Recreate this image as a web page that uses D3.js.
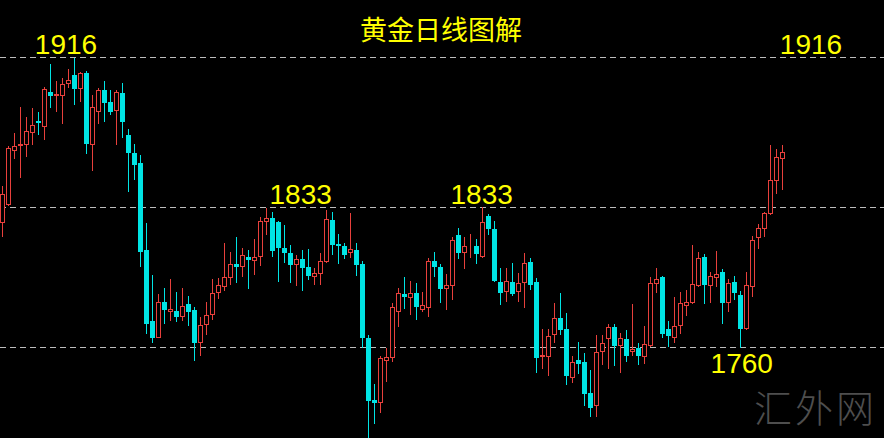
<!DOCTYPE html>
<html>
<head>
<meta charset="utf-8">
<script src="https://cdn.jsdelivr.net/npm/d3@7/dist/d3.min.js"></script>
<style>
  html, body { margin: 0; padding: 0; background: #000; }
  svg { display: block; }
</style>
</head>
<body>
<svg id="chart" width="884" height="438"></svg>
<script>
// ---- data (daily gold candles) ----
const openP = [1824.8,1834.3,1864.4,1867.3,1867.5,1874.0,1880.8,1877.3,1897.0,1894.7,1894.7,1901.3,1906.3,1898.4,1907.2,1867.5,1886.0,1898.0,1891.5,1886.3,1896.3,1873.1,1863.1,1857.5,1810.7,1773.6,1765.2,1783.5,1778.3,1778.8,1775.7,1782.5,1779.3,1762.1,1771.5,1776.7,1788.2,1791.4,1796.1,1803.4,1801.8,1807.0,1804.9,1807.0,1825.3,1827.4,1825.3,1811.7,1809.1,1802.9,1806.0,1801.8,1796.6,1798.1,1804.4,1826.4,1813.8,1812.8,1809.1,1810.7,1803.4,1764.7,1732.8,1731.3,1753.2,1754.3,1778.3,1787.7,1785.6,1788.2,1779.3,1780.4,1804.9,1801.8,1790.3,1791.9,1818.5,1809.1,1812.0,1812.8,1807.0,1828.4,1821.7,1794.0,1788.7,1794.0,1788.7,1793.4,1804.4,1794.0,1754.8,1754.8,1766.3,1775.2,1769.9,1744.3,1753.7,1752.2,1736.5,1729.7,1757.9,1764.2,1770.5,1761.0,1764.2,1757.4,1759.5,1755.3,1761.0,1792.9,1796.6,1769.9,1765.2,1771.0,1781.4,1783.0,1791.9,1807.0,1791.9,1796.1,1799.2,1783.0,1794.0,1787.2,1769.4,1791.4,1817.0,1821.7,1829.5,1847.6,1859.8];
const highP = [1844.8,1867.0,1874.0,1888.7,1882.9,1887.8,1886.0,1899.8,1912.4,1903.1,1904.5,1909.4,1915.5,1908.1,1908.7,1895.2,1898.9,1903.1,1898.0,1898.0,1901.9,1876.4,1868.1,1862.0,1824.8,1797.6,1787.7,1790.8,1795.5,1788.7,1790.8,1786.7,1780.9,1775.7,1783.5,1795.5,1796.1,1814.3,1809.6,1817.5,1811.7,1810.7,1816.4,1827.9,1832.6,1830.5,1826.0,1823.7,1813.3,1808.1,1810.7,1811.2,1801.3,1809.1,1831.6,1830.5,1819.0,1814.3,1830.0,1814.3,1804.9,1766.3,1741.2,1755.8,1760.0,1783.0,1790.8,1796.6,1794.5,1793.4,1788.7,1806.5,1809.6,1803.4,1798.1,1817.5,1822.2,1817.5,1819.0,1816.4,1833.2,1829.5,1825.8,1801.3,1801.3,1803.9,1798.7,1809.1,1806.5,1796.1,1769.9,1769.9,1783.0,1788.2,1777.8,1755.8,1763.1,1756.9,1748.5,1766.3,1766.3,1772.0,1772.0,1767.8,1768.9,1782.5,1762.6,1771.0,1796.6,1801.3,1797.1,1773.6,1786.1,1788.7,1789.8,1813.3,1809.6,1808.6,1799.2,1810.2,1800.8,1795.5,1797.1,1789.3,1799.2,1818.0,1824.3,1830.5,1867.5,1865.3,1867.5];
const lowP = [1817.5,1834.0,1860.1,1849.1,1860.7,1867.5,1873.1,1870.3,1887.8,1886.0,1879.0,1898.9,1889.7,1891.5,1862.5,1853.3,1879.1,1880.4,1884.1,1867.5,1871.4,1841.5,1848.1,1801.8,1767.3,1762.1,1765.0,1772.0,1773.6,1773.1,1773.6,1771.0,1753.2,1755.8,1766.3,1774.6,1785.1,1789.3,1792.4,1793.4,1796.6,1790.3,1797.6,1802.3,1818.5,1807.0,1794.0,1803.9,1793.4,1791.9,1789.3,1795.0,1792.4,1792.4,1804.0,1808.1,1803.4,1806.0,1806.5,1797.1,1760.0,1711.0,1720.3,1726.0,1742.2,1752.2,1770.5,1779.9,1777.2,1774.6,1778.3,1775.7,1796.6,1783.0,1779.3,1784.6,1806.0,1800.8,1806.5,1803.4,1806.5,1818.5,1794.0,1782.0,1783.5,1786.7,1783.5,1780.4,1789.8,1746.9,1749.0,1744.9,1762.1,1766.3,1740.2,1741.7,1746.4,1729.7,1724.0,1724.0,1751.1,1749.0,1750.1,1746.9,1752.2,1755.8,1751.1,1751.6,1760.5,1788.2,1765.2,1760.5,1762.6,1766.8,1776.2,1782.5,1791.4,1782.5,1783.0,1791.4,1772.5,1778.3,1784.6,1760.0,1769.0,1786.1,1811.2,1817.5,1829.0,1840.4,1842.6];
const closeP = [1840.4,1865.9,1867.0,1868.1,1875.4,1878.6,1879.5,1898.4,1894.8,1895.6,1901.1,1903.5,1898.4,1907.2,1868.1,1888.7,1898.0,1890.6,1886.0,1896.9,1880.3,1863.1,1856.4,1809.6,1772.5,1765.2,1783.5,1779.3,1779.9,1775.7,1781.4,1778.3,1762.1,1771.5,1776.7,1788.2,1792.4,1796.6,1803.4,1801.8,1808.1,1805.5,1807.0,1825.8,1827.4,1810.2,1811.7,1809.1,1802.9,1806.0,1801.3,1797.1,1798.7,1804.9,1826.9,1813.3,1812.8,1808.1,1811.2,1802.9,1764.7,1732.3,1731.3,1754.3,1754.8,1780.9,1788.2,1786.1,1788.2,1780.9,1782.0,1804.9,1801.8,1790.3,1792.4,1815.9,1809.1,1812.8,1812.5,1808.6,1825.3,1821.7,1794.5,1788.2,1794.5,1787.7,1793.4,1803.9,1792.4,1754.3,1756.3,1765.8,1775.2,1768.9,1744.9,1752.2,1751.6,1736.0,1728.7,1757.4,1762.1,1770.5,1761.0,1765.2,1755.8,1759.0,1755.8,1761.6,1793.4,1795.5,1767.3,1765.8,1771.0,1783.0,1783.5,1792.9,1806.5,1792.4,1797.1,1798.1,1783.0,1793.4,1788.2,1769.9,1792.4,1815.9,1822.2,1830.0,1848.1,1860.9,1863.6];

const levels = [1916, 1833, 1760];
const levelLabels = [
  {text: "1916", value: 1916, pos: 0.0},
  {text: "1916", value: 1916, pos: 1.0},
  {text: "1833", value: 1833, pos: 0.315},
  {text: "1833", value: 1833, pos: 0.558},
  {text: "1760", value: 1760, pos: 0.907}
];
const title = "黄金日线图解";
const watermark = "汇外网";

// ---- drawing ----
const W = 884, H = 438;
const svg = d3.select("#chart");
svg.append("rect").attr("width", W).attr("height", H).attr("fill", "#000");

const candles = openP.map((o, i) => ({i, o, h: highP[i], l: lowP[i], c: closeP[i]}));

const x = d3.scaleLinear().domain([0, candles.length - 1]).range([2.5, 782.5]);
const y = d3.scaleLinear().domain([1760, 1833, 1916]).range([347.5, 207.5, 57.5]);

const UP = "#e8403c", DOWN = "#00e4e4";

// dashed level lines
svg.append("g").selectAll("line").data(levels).join("line")
  .attr("x1", 0).attr("x2", W)
  .attr("y1", d => Math.round(y(d) - 0.5) + 0.5)
  .attr("y2", d => Math.round(y(d) - 0.5) + 0.5)
  .attr("stroke", "#bdbdbd").attr("stroke-width", 1)
  .attr("stroke-dasharray", "6,4");

const g = svg.append("g");
const cg = g.selectAll("g.c").data(candles).join("g").attr("class", "c");

cg.append("line")
  .attr("x1", d => x(d.i)).attr("x2", d => x(d.i))
  .attr("y1", d => Math.round(y(d.h)))
  .attr("y2", d => Math.round(y(d.l)))
  .attr("stroke", d => d.c >= d.o ? UP : DOWN)
  .attr("stroke-width", 1);

cg.append("rect")
  .each(function(d) {
    const top = Math.round(y(Math.max(d.o, d.c)));
    const bot = Math.round(y(Math.min(d.o, d.c)));
    const r = d3.select(this);
    if (d.c >= d.o) {
      r.attr("x", x(d.i) - 2).attr("width", 4)
       .attr("y", top + 0.5).attr("height", Math.max(bot - top - 1, 0))
       .attr("fill", "#000").attr("stroke", UP).attr("stroke-width", 1);
    } else {
      r.attr("x", x(d.i) - 2.5).attr("width", 5)
       .attr("y", top).attr("height", Math.max(bot - top, 1))
       .attr("fill", DOWN);
    }
  });

// level labels
const labelX = d3.scaleLinear().domain([0, 1]).range([66, 811]);
svg.append("g").selectAll("text").data(levelLabels).join("text")
  .attr("x", d => labelX(d.pos))
  .attr("y", d => y(d.value) + (d.value === 1760 ? 25 : -4))
  .attr("text-anchor", "middle")
  .attr("fill", "#ffff00")
  .attr("font-family", "'Liberation Sans', Arial, sans-serif")
  .attr("font-size", 28)
  .text(d => d.text);

svg.append("text")
  .attr("x", 441).attr("y", 40)
  .attr("text-anchor", "middle")
  .attr("fill", "#ffff00")
  .attr("font-family", "'Noto Sans CJK SC', sans-serif")
  .attr("font-size", 27)
  .text(title);

svg.append("text")
  .attr("x", 754).attr("y", 422)
  .attr("fill", "#4e4e4e")
  .attr("font-family", "'Noto Sans CJK SC', sans-serif")
  .attr("font-weight", 300)
  .attr("font-size", 38)
  .attr("letter-spacing", 3)
  .text(watermark);
</script>
</body>
</html>
